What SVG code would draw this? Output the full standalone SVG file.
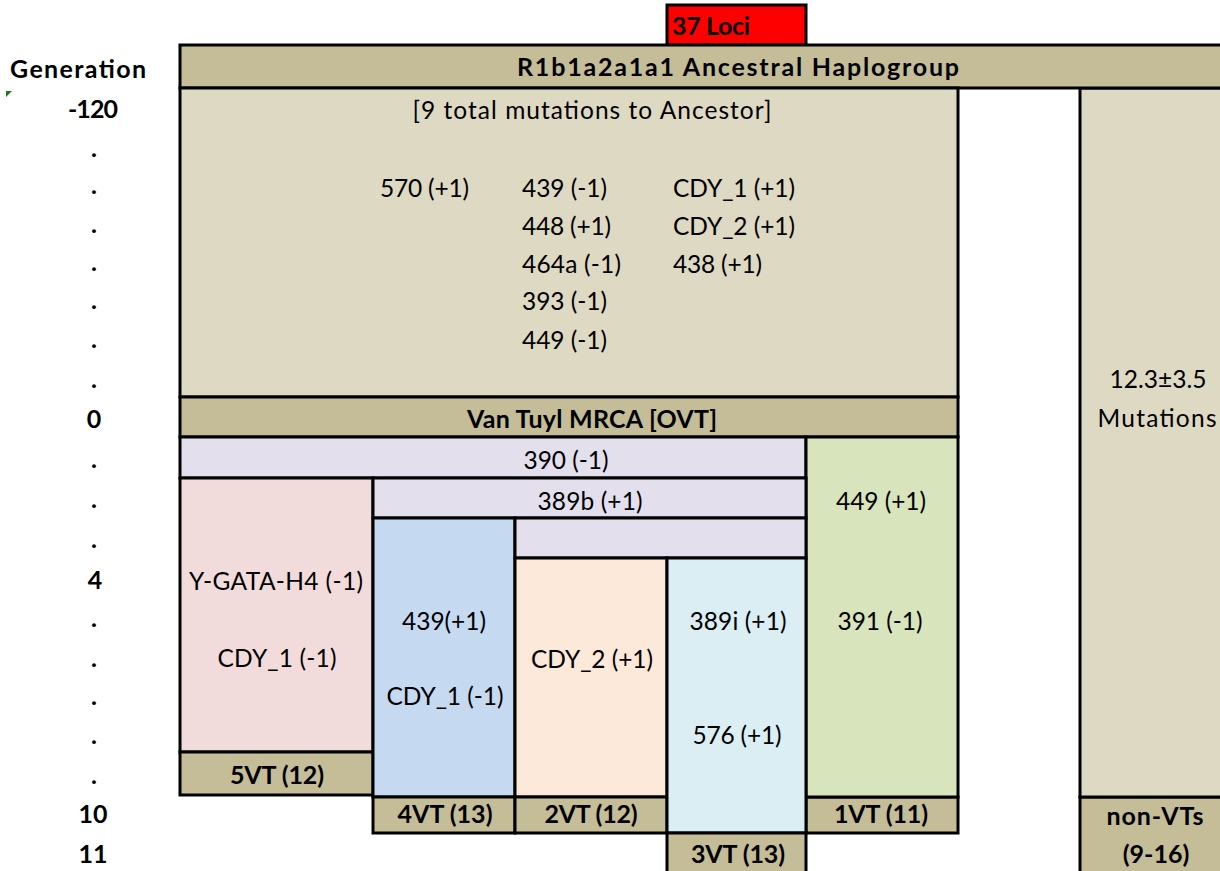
<svg xmlns="http://www.w3.org/2000/svg" width="1220" height="871" viewBox="0 0 1220 871">
<style>
rect.b{stroke:#000;stroke-width:3}
text{font-family:Lato,"Liberation Sans",sans-serif;font-size:24.5px;fill:#000}
.bd{font-weight:bold;font-size:25px}
.c{text-anchor:middle}
.tan{fill:#c4bd97}
.lt{fill:#ddd9c3}
.lav{fill:#e4dfec}
</style>
<rect width="1220" height="871" fill="#fff"/>
<g id="generation-axis">
<polygon points="6,91 12,91 6,97" fill="#1f7a1f"/>
<text class="bd c" x="78" y="78" textLength="136">Generation</text>
<text class="bd c" x="93" y="118" textLength="50">-120</text>
<text class="bd c" x="94" y="157">.</text>
<text class="bd c" x="94" y="194">.</text>
<text class="bd c" x="94" y="233">.</text>
<text class="bd c" x="94" y="271">.</text>
<text class="bd c" x="94" y="309">.</text>
<text class="bd c" x="94" y="348">.</text>
<text class="bd c" x="94" y="388">.</text>
<text class="bd c" x="94" y="428">0</text>
<text class="bd c" x="94" y="468">.</text>
<text class="bd c" x="94" y="508">.</text>
<text class="bd c" x="94" y="548">.</text>
<text class="bd c" x="95" y="589">4</text>
<text class="bd c" x="94" y="627">.</text>
<text class="bd c" x="94" y="667">.</text>
<text class="bd c" x="94" y="705">.</text>
<text class="bd c" x="94" y="744">.</text>
<text class="bd c" x="94" y="784">.</text>
<text class="bd c" x="93" y="823">10</text>
<text class="bd c" x="93" y="863">11</text>
</g>
<g id="loci">
<rect class="b" x="667" y="5" width="139" height="40" fill="#ff0000"/>
<text class="bd" x="672" y="35" textLength="78">37 Loci</text>
</g>
<g id="non-vt">
<rect class="b tan" x="1080" y="797" width="150" height="80"/>
<rect class="b lt" x="1080" y="88" width="150" height="709"/>
<text class="c" x="1158" y="388" textLength="97">12.3±3.5</text>
<text class="c" x="1157" y="427" textLength="119">Mutations</text>
<text class="bd c" x="1155" y="825" textLength="97">non-VTs</text>
<text class="bd c" x="1156" y="863">(9-16)</text>
</g>
<g id="haplogroup">
<rect class="b tan" x="180" y="45" width="1050" height="43"/>
<text class="bd c" x="738" y="76" textLength="442">R1b1a2a1a1 Ancestral Haplogroup</text>
</g>
<g id="ancestor">
<rect class="b lt" x="180" y="88" width="778" height="309"/>
<text class="c" x="592" y="119" textLength="359">[9 total mutations to Ancestor]</text>
<text x="380" y="197" textLength="89">570 (+1)</text>
<text x="522" y="197" textLength="85">439 (-1)</text>
<text x="522" y="235" textLength="89">448 (+1)</text>
<text x="522" y="273" textLength="99">464a (-1)</text>
<text x="522" y="310" textLength="85">393 (-1)</text>
<text x="522" y="349" textLength="85">449 (-1)</text>
<text x="673" y="197" textLength="122">CDY_1 (+1)</text>
<text x="673" y="235" textLength="122">CDY_2 (+1)</text>
<text x="673" y="273" textLength="89">438 (+1)</text>
</g>
<g id="mrca">
<rect class="b tan" x="180" y="397" width="778" height="40"/>
<text class="bd c" x="592" y="428" textLength="250">Van Tuyl MRCA [OVT]</text>
</g>
<g id="m390">
<rect class="b lav" x="180" y="437" width="626" height="41"/>
<text class="c" x="566" y="469" textLength="85">390 (-1)</text>
</g>
<g id="vt1">
<rect class="b tan" x="806" y="797" width="152" height="36"/>
<rect class="b" x="806" y="437" width="152" height="360" fill="#d8e4bc"/>
<text class="c" x="881" y="510" textLength="90">449 (+1)</text>
<text class="c" x="880" y="630" textLength="85">391 (-1)</text>
<text class="bd c" x="881" y="823" textLength="94">1VT (11)</text>
</g>
<g id="vt5">
<rect class="b" x="180" y="478" width="193" height="274" fill="#f2dcdb"/>
<rect class="b tan" x="180" y="752" width="193" height="43"/>
<text class="c" x="276" y="590" textLength="174">Y-GATA-H4 (-1)</text>
<text class="c" x="277" y="667" textLength="119">CDY_1 (-1)</text>
<text class="bd c" x="277" y="784" textLength="94">5VT (12)</text>
</g>
<g id="m389b">
<rect class="b lav" x="373" y="478" width="433" height="40"/>
<text class="c" x="590" y="510" textLength="105">389b (+1)</text>
</g>
<g id="vt4">
<rect class="b" x="373" y="518" width="142" height="279" fill="#c5d9f1"/>
<rect class="b tan" x="373" y="797" width="142" height="36"/>
<text class="c" x="444" y="630" textLength="84">439(+1)</text>
<text class="c" x="445" y="705" textLength="117">CDY_1 (-1)</text>
<text class="bd c" x="445" y="823" textLength="95">4VT (13)</text>
</g>
<g id="blank">
<rect class="b lav" x="515" y="518" width="291" height="40"/>
</g>
<g id="vt2">
<rect class="b" x="515" y="558" width="152" height="239" fill="#fde9d9"/>
<rect class="b tan" x="515" y="797" width="152" height="36"/>
<text class="c" x="592" y="668" textLength="122">CDY_2 (+1)</text>
<text class="bd c" x="591" y="823" textLength="93">2VT (12)</text>
</g>
<g id="vt3">
<rect class="b" x="667" y="558" width="139" height="275" fill="#daeef3"/>
<rect class="b tan" x="667" y="833" width="139" height="44"/>
<text class="c" x="738" y="630" textLength="97">389i (+1)</text>
<text class="c" x="737" y="744" textLength="89">576 (+1)</text>
<text class="bd c" x="738" y="863" textLength="94">3VT (13)</text>
</g>
<g id="connectors"></g>
</svg>
